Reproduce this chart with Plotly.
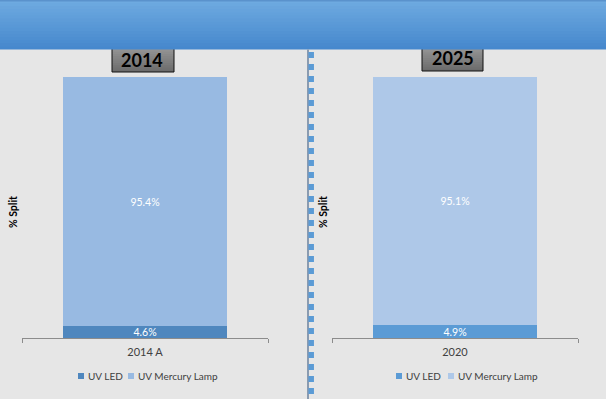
import plotly.graph_objects as go

# ---------------- data ----------------
categories_left = ["2014 A"]
categories_right = ["2020"]
series_names = ["UV LED", "UV Mercury Lamp"]
uv_led_2014 = [4.6]
uv_mercury_2014 = [95.4]
uv_led_2020 = [4.9]
uv_mercury_2020 = [95.1]
panel_titles = ["2014", "2025"]
axis_title = "% Split"

# ---------------- helpers ----------------
W, H = 606, 399
FONT = "Lato"


def px(x):
    return x / W


def py(y):
    return 1 - y / H


def lerp_color(c1, c2, t):
    a = [int(c1[i:i + 2], 16) for i in (1, 3, 5)]
    b = [int(c2[i:i + 2], 16) for i in (1, 3, 5)]
    return "#" + "".join(f"{round(a[k] + (b[k] - a[k]) * t):02x}" for k in range(3))


left_colors = ["#4f87be", "#98bae2"]
right_colors = ["#5b9bd5", "#aec8e8"]

fig = go.Figure()


def add_panel(cats, series, colors, xa, ya):
    for name, vals, col in zip(series_names, series, colors):
        fig.add_trace(go.Bar(
            x=cats, y=vals, name=name, width=0.667,
            marker=dict(color=col, line=dict(width=0)),
            text=[f"{v:.1f}%" for v in vals],
            textposition="inside", insidetextanchor="middle",
            constraintext="none",
            textfont=dict(color="white", size=10.5, family=FONT),
            xaxis=xa, yaxis=ya, showlegend=False, hoverinfo="skip",
        ))


add_panel(categories_left, [uv_led_2014, uv_mercury_2014], left_colors, "x", "y")
add_panel(categories_right, [uv_led_2020, uv_mercury_2020], right_colors, "x2", "y2")

xax_common = dict(
    range=[-0.5, 0.5], showline=True, linecolor="#8c8c8c", linewidth=1,
    ticks="outside", tickson="boundaries", ticklen=4, tickcolor="#8c8c8c",
    ticklabelstandoff=4,
    tickfont=dict(size=11, color="#404040", family=FONT),
    showgrid=False, zeroline=False, fixedrange=True,
)
yax_common = dict(range=[0, 100], visible=False, fixedrange=True)

shapes = []
# panel title boxes (gradient gray), drawn before the banner
for (x0, x1, y1) in [(112, 174, 72), (422, 483, 71)]:
    n = 12
    y0 = 45
    for i in range(n):
        ya = y0 + (y1 - y0) * i / n
        yb = min(y1, y0 + (y1 - y0) * (i + 1) / n + 1)
        shapes.append(dict(type="rect", xref="paper", yref="paper",
                           x0=px(x0), x1=px(x1), y0=py(yb), y1=py(ya),
                           fillcolor=lerp_color("#9a9a9a", "#6c6c6c", i / (n - 1)),
                           line=dict(width=0)))
    shapes.append(dict(type="rect", xref="paper", yref="paper",
                       x0=px(x0), x1=px(x1), y0=py(y1), y1=py(y0),
                       fillcolor="rgba(0,0,0,0)", line=dict(color="#111111", width=1)))

# banner gradient
n = 16
for i in range(n):
    ya = 49.5 * i / n
    yb = min(49.5, 49.5 * (i + 1) / n + 1)
    shapes.append(dict(type="rect", xref="paper", yref="paper",
                       x0=0, x1=1, y0=py(yb), y1=py(ya),
                       fillcolor=lerp_color("#6eaae0", "#4688cd", i / (n - 1)),
                       line=dict(width=0)))
shapes.append(dict(type="line", xref="paper", yref="paper", x0=0, x1=1,
                   y0=py(0.8), y1=py(0.8), line=dict(color="#5a92cc", width=1.5)))

# divider
shapes.append(dict(type="line", xref="paper", yref="paper", x0=px(308), x1=px(308),
                   y0=py(49.5), y1=0, line=dict(color="#8a9bb0", width=2)))
shapes.append(dict(type="line", xref="paper", yref="paper", x0=px(311.2), x1=px(311.2),
                   y0=py(52), y1=0, line=dict(color="#5b9bd5", width=5.5, dash="6px,6px")))

annotations = []
for txt, cx, cy in [(panel_titles[0], 142, 60), (panel_titles[1], 452.5, 58)]:
    annotations.append(dict(text=f"<b>{txt}</b>", xref="paper", yref="paper",
                            x=px(cx), y=py(cy), xanchor="center", yanchor="middle",
                            showarrow=False, font=dict(size=18, color="#000000", family=FONT)))
for cx in [13, 323]:
    annotations.append(dict(text=f"<b>{axis_title}</b>", xref="paper", yref="paper",
                            x=px(cx), y=py(212), xanchor="center", yanchor="middle",
                            textangle=-90, showarrow=False,
                            font=dict(size=10.5, color="#000000", family=FONT)))

# legends (one per panel): colour swatch + series name
legend_rows = [
    (left_colors, [78, 128], 376),
    (right_colors, [396, 448], 376),
]
for colors, starts, ly in legend_rows:
    for name, col, sx in zip(series_names, colors, starts):
        shapes.append(dict(type="rect", xref="paper", yref="paper",
                           x0=px(sx), x1=px(sx + 6), y0=py(ly + 3), y1=py(ly - 3),
                           fillcolor=col, line=dict(width=0)))
        annotations.append(dict(text=name, xref="paper", yref="paper",
                                x=px(sx + 8), y=py(ly), xanchor="left", yanchor="middle",
                                showarrow=False,
                                font=dict(size=10, color="#404040", family=FONT)))

fig.update_layout(
    width=W, height=H, margin=dict(l=0, r=0, t=0, b=0),
    paper_bgcolor="#e6e6e6", plot_bgcolor="rgba(0,0,0,0)",
    barmode="stack", bargap=0,
    xaxis=dict(domain=[px(22), px(268)], anchor="y", **xax_common),
    yaxis=dict(domain=[py(338), py(77)], anchor="x", **yax_common),
    xaxis2=dict(domain=[px(332), px(578)], anchor="y2", **xax_common),
    yaxis2=dict(domain=[py(338), py(77)], anchor="x2", **yax_common),
    shapes=shapes, annotations=annotations,
    showlegend=False,
)

fig.write_html("out.html", config={"displayModeBar": False},
               post_script="document.body.style.margin='0';")
